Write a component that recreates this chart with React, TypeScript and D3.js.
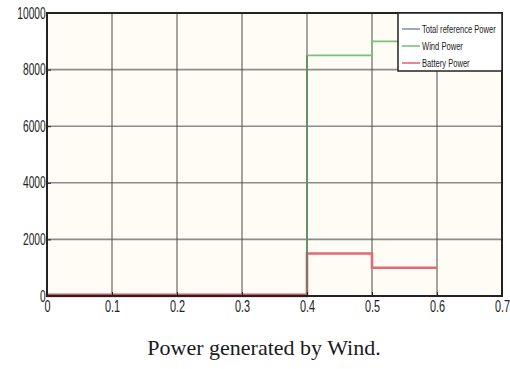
import React, { useEffect, useRef } from 'react';
import * as d3 from 'd3';

// step series: each value holds from t[i] to t[i+1]
const windT = [0, 0.4, 0.5, 0.6];
const windP = [0, 8500, 9000];
const batteryT = [0, 0.4, 0.5, 0.6];
const batteryP = [0, 1500, 1000];
const refT = [0, 0.4];
const refP = [0];

const xTicks = [0, 0.1, 0.2, 0.3, 0.4, 0.5, 0.6, 0.7];
const yTicks = [0, 2000, 4000, 6000, 8000, 10000];
const legendNames = ['Total reference Power', 'Wind Power', 'Battery Power'];
const legendColors = ['#8a8fb8', '#7cc07c', '#e06a78'];

function stepPoints(t: number[], v: number[]): [number, number][] {
  const pts: [number, number][] = [];
  v.forEach((val, i) => {
    pts.push([t[i], val]);
    pts.push([t[i + 1], val]);
  });
  return pts;
}

export default function App() {
  const ref = useRef<SVGSVGElement>(null);

  useEffect(() => {
    const svg = d3.select(ref.current);
    svg.selectAll('*').remove();
    const W = 510, H = 369;
    const m = { left: 47, right: 8, top: 13, bottom: 73 };

    const x = d3.scaleLinear().domain([0, 0.7]).range([m.left, W - m.right]);
    const y = d3.scaleLinear().domain([0, 10000]).range([H - m.bottom, m.top]);

    svg.append('rect').attr('width', W).attr('height', H).attr('fill', '#fff');
    svg.append('rect')
      .attr('x', x(0)).attr('y', y(10000))
      .attr('width', x(0.7) - x(0)).attr('height', y(0) - y(10000))
      .attr('fill', '#fffcf6');

    // grid
    svg.append('g').selectAll('line').data(yTicks.slice(1, -1)).enter().append('line')
      .attr('x1', x(0)).attr('x2', x(0.7))
      .attr('y1', d => y(d)).attr('y2', d => y(d))
      .attr('stroke', '#8c8c8c').attr('stroke-width', 1.6);
    svg.append('g').selectAll('line').data(xTicks.slice(1, -1)).enter().append('line')
      .attr('y1', y(0)).attr('y2', y(10000))
      .attr('x1', d => x(d)).attr('x2', d => x(d))
      .attr('stroke', '#4a4a4a').attr('stroke-width', 1);

    const line = d3.line<[number, number]>().x(d => x(d[0])).y(d => y(d[1]));

    svg.append('path').datum(stepPoints(refT, refP)).attr('d', line)
      .attr('fill', 'none').attr('stroke', legendColors[0]).attr('stroke-width', 1.5);
    svg.append('path').datum(stepPoints(windT, windP)).attr('d', line)
      .attr('fill', 'none').attr('stroke', legendColors[1]).attr('stroke-width', 1.8);
    svg.append('path').datum(stepPoints(batteryT, batteryP)).attr('d', line)
      .attr('fill', 'none').attr('stroke', legendColors[2]).attr('stroke-width', 2.6);
    // zero segment of battery drawn a bit heavier, as in the source
    svg.append('line')
      .attr('x1', x(batteryT[0])).attr('x2', x(batteryT[1]))
      .attr('y1', y(batteryP[0]) - 1).attr('y2', y(batteryP[0]) - 1)
      .attr('stroke', '#c85a66').attr('stroke-width', 3);
    // vertical edge of the wind step at 0.4 sits over the grid
    svg.append('line')
      .attr('x1', x(0.4)).attr('x2', x(0.4)).attr('y1', y(0)).attr('y2', y(windP[1]))
      .attr('stroke', '#557755').attr('stroke-width', 1.2);

    // frame
    svg.append('rect')
      .attr('x', x(0)).attr('y', y(10000))
      .attr('width', x(0.7) - x(0)).attr('height', y(0) - y(10000))
      .attr('fill', 'none').attr('stroke', '#222').attr('stroke-width', 2);

    const font = "'Liberation Sans', Arial, sans-serif";

    const xAxis = d3.axisBottom(x).tickValues(xTicks).tickSize(-4).tickPadding(8)
      .tickFormat(d => d3.format('')(+d));
    const gx = svg.append('g').attr('transform', `translate(0,${y(0)})`).call(xAxis);
    gx.select('.domain').remove();
    gx.selectAll('line').attr('stroke', '#222');
    gx.selectAll('text').attr('font-family', font).attr('font-size', 17).attr('fill', '#222')
      .attr('dy', '0.5em').attr('transform', 'scale(0.64,1)');

    const yAxis = d3.axisLeft(y).tickValues(yTicks).tickSize(-4).tickPadding(2)
      .tickFormat(d => String(d));
    const gy = svg.append('g').attr('transform', `translate(${x(0)},0)`).call(yAxis);
    gy.select('.domain').remove();
    gy.selectAll('line').attr('stroke', '#222');
    gy.selectAll('text').attr('font-family', font).attr('font-size', 16).attr('fill', '#222')
      .attr('transform', 'scale(0.64,1)');

    // legend
    const lx = 398, ly = 13, lw = 104, lh = 58;
    const lg = svg.append('g');
    lg.append('rect').attr('x', lx).attr('y', ly).attr('width', lw).attr('height', lh)
      .attr('fill', '#fff').attr('stroke', '#222').attr('stroke-width', 1.5);
    const rows = lg.selectAll('g.row').data(legendNames).enter().append('g')
      .attr('transform', (_, i) => `translate(${lx + 4},${ly + 16 + i * 17})`);
    rows.append('line').attr('x1', 0).attr('x2', 18).attr('y1', 0).attr('y2', 0)
      .attr('stroke', (_, i) => legendColors[i]).attr('stroke-width', 1.6);
    rows.append('text').attr('x', 20 / 0.66).attr('y', 4).text(d => d)
      .attr('transform', 'scale(0.66,1)')
      .attr('font-family', font).attr('font-size', 11.5)
      .attr('fill', '#222');

    svg.append('text').attr('x', (147 + 381) / 2).attr('y', 355)
      .attr('text-anchor', 'middle')
      .attr('font-family', "'Liberation Serif', 'Times New Roman', serif")
      .attr('font-size', 22).attr('fill', '#1a1a1a')
      .text('Power generated by Wind.');
  }, []);

  return (
    <div style={{ position: 'absolute', left: 0, top: 0 }}>
      <svg ref={ref} width={510} height={369} />
    </div>
  );
}
